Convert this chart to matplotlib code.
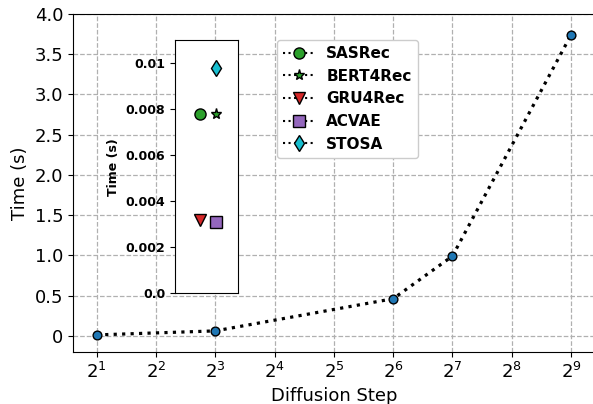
import matplotlib
matplotlib.use('Agg')
import matplotlib.pyplot as plt

steps_exp = [1, 3, 6, 7, 9]
diffusion_time = [0.01, 0.06, 0.46, 0.99, 3.74]

baselines = ['SASRec', 'BERT4Rec', 'GRU4Rec', 'ACVAE', 'STOSA']
baseline_time = [0.0078, 0.0078, 0.0032, 0.0031, 0.0098]
baseline_col = [0, 1, 0, 1, 1]
markers = ['o', '*', 'v', 's', 'd']
colors = ['tab:green', 'tab:green', 'tab:red', 'tab:purple', 'tab:cyan']

fig = plt.figure(figsize=(5.93, 4.04), dpi=100)
# right spine falls just outside the saved image, as in the reference
ax = fig.add_axes([0.1231, 0.1292, 0.8798, 0.836])
ax.spines['right'].set_visible(False)

ax.plot(steps_exp, diffusion_time, linestyle=':', color='black', linewidth=2.3,
        marker='o', markerfacecolor='tab:blue', markeredgecolor='black',
        markersize=6.3, zorder=3)
ax.set_xlim(0.6, 9.4)
ax.set_ylim(-0.2, 4.0)
ax.set_xticks(range(1, 10))
ax.set_xticklabels([r'$2^{%d}$' % i for i in range(1, 10)])
ax.set_yticks([0, 0.5, 1.0, 1.5, 2.0, 2.5, 3.0, 3.5, 4.0])
ax.set_yticklabels(['0', '0.5', '1.0', '1.5', '2.0', '2.5', '3.0', '3.5', '4.0'])
ax.tick_params(labelsize=13)
ax.set_xlabel('Diffusion Step', fontsize=13)
ax.set_ylabel('Time (s)', fontsize=13)
ax.grid(True, linestyle='--', color='#b0b0b0', linewidth=0.9)

# legend handles: dotted line with marker
handles = []
for name, m, c in zip(baselines, markers, colors):
    h, = ax.plot([], [], linestyle=':', color='black', marker=m,
                 markerfacecolor=c, markeredgecolor='black', markersize=8,
                 label=name)
    handles.append(h)
ax.legend(handles=handles, loc='upper left', bbox_to_anchor=(0.3916, 0.923),
          borderaxespad=0, prop={'weight': 'bold', 'size': 11},
          handlelength=2.0, framealpha=1)

# inset
ins = fig.add_axes([0.2951, 0.274, 0.1057, 0.627])
for x, y, m, c in zip(baseline_col, baseline_time, markers, colors):
    ins.plot([x], [y], marker=m, markerfacecolor=c, markeredgecolor='black',
             markersize=8, linestyle='none')
ins.set_xlim(-1.59, 2.40)
ins.set_ylim(0, 0.011)
ins.set_xticks([])
ins.set_yticks([0, 0.002, 0.004, 0.006, 0.008, 0.01])
ins.set_yticklabels(['0.0', '0.002', '0.004', '0.006', '0.008', '0.01'])
for lbl in ins.get_yticklabels():
    lbl.set_fontweight('bold')
    lbl.set_fontsize(9)
ins.set_ylabel('Time (s)', fontsize=9, fontweight='bold')

fig.savefig('out.png', dpi=100)
